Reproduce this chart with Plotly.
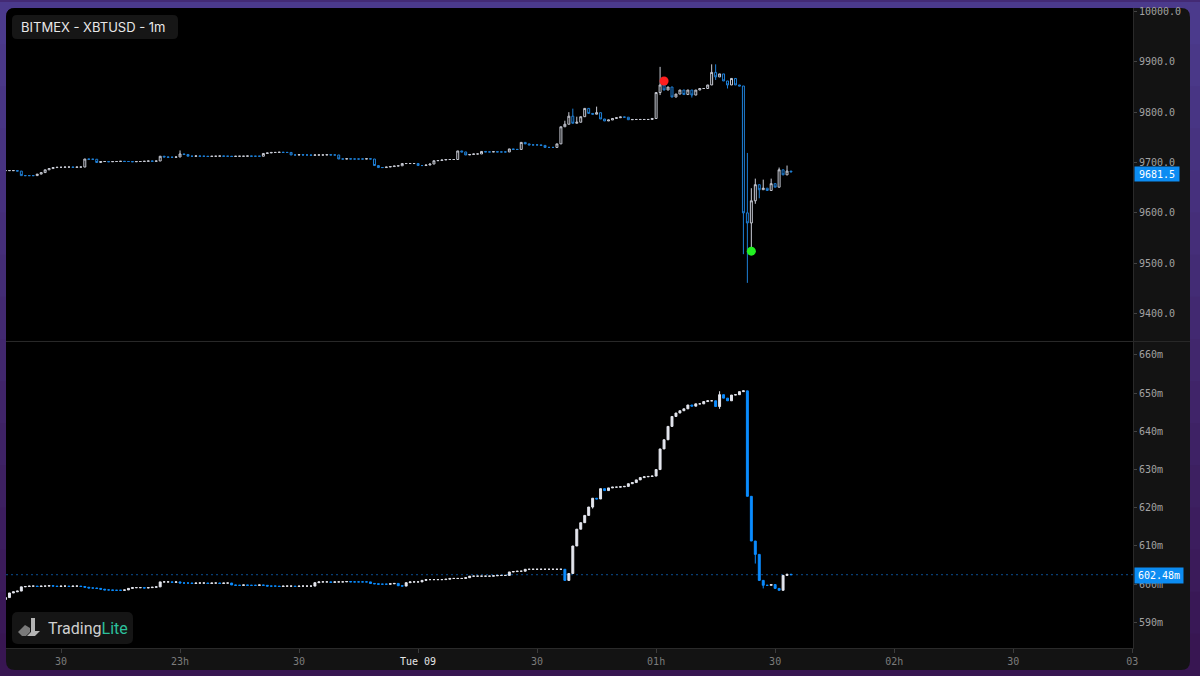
import pandas as pd
import plotly.graph_objects as go
from plotly.subplots import make_subplots

# ---------------- DATA ----------------
START = "2020-06-08 22:16"      # first 1-minute candle
M0 = -14                         # minute offset of first candle relative to 22:30

# XBTUSD 1m closes (22:16 .. 01:34)
price_close = [
    9684, 9684, 9684, 9683, 9674, 9674, 9674, 9674, 9677, 9680,
    9685.5, 9688, 9690, 9690.5, 9690.5, 9691, 9691, 9690.5, 9691, 9691,
    9707, 9706.5, 9706.5, 9700, 9702, 9702, 9701.5, 9702, 9702, 9702.5,
    9702, 9702, 9701.5, 9702, 9702, 9702.5, 9703, 9702.5, 9703, 9712.5,
    9711, 9710.5, 9710.5, 9711, 9717, 9716, 9712.5, 9712.5, 9713, 9712.5,
    9712.5, 9712, 9712.5, 9712.5, 9713, 9712.5, 9712.5, 9712, 9712.5, 9712.5,
    9712.5, 9713, 9712.5, 9712.5, 9712.5, 9718, 9719, 9720, 9720, 9720.5,
    9720, 9720, 9715, 9715, 9715.5, 9715, 9715, 9714.5, 9715, 9715,
    9715, 9715.5, 9715, 9715, 9707, 9707, 9707.5, 9707, 9707, 9707,
    9707, 9707.5, 9707, 9694, 9690, 9690, 9691, 9692, 9693, 9693.5,
    9698, 9698, 9698, 9698, 9694, 9694, 9695, 9697, 9703.5, 9704,
    9705, 9706, 9706, 9706, 9723, 9721, 9715, 9716, 9717, 9717,
    9722, 9721, 9721, 9721.5, 9721, 9721, 9721, 9727, 9726, 9726,
    9740, 9737, 9735, 9735, 9735, 9734, 9730, 9730, 9730, 9737,
    9771, 9776, 9792, 9778, 9780, 9791, 9807.5, 9797.5, 9796, 9799,
    9786.5, 9782.5, 9784.5, 9787.5, 9789, 9790.5, 9790, 9785, 9785.5, 9785.5,
    9785.5, 9785.5, 9785.5, 9787.5, 9839, 9854, 9844, 9850, 9830, 9836,
    9844, 9835, 9844, 9834, 9844, 9847, 9847, 9854, 9879, 9870,
    9876, 9862, 9854, 9867, 9854, 9852, 9600, 9580, 9624, 9656,
    9646, 9649, 9644.5, 9658, 9651, 9685.5, 9675.5, 9683, 9681.5,
]
price_first_open = 9684
price_high_wicks = {30: 9724, 127: 9783, 128: 9800, 129: 9807, 130: 9791, 135: 9811,
                    151: 9890, 152: 9865, 164: 9895, 165: 9895, 173: 9719, 174: 9649,
                    175: 9668, 177: 9666, 179: 9668, 181: 9690, 183: 9694}
price_low_wicks = {151: 9834, 159: 9829, 165: 9864, 168: 9847, 172: 9518, 173: 9461,
                   174: 9524, 175: 9618, 176: 9629}

# Open interest (millions) 1m closes
oi_close = [
    596.5, 597.7, 598.0, 598.2, 599.3, 599.4, 599.5, 599.5, 599.4, 599.5,
    599.5, 599.6, 599.5, 599.4, 599.5, 599.5, 599.4, 599.5, 599.5, 599.4,
    599.2, 599.0, 599.0, 598.9, 598.7, 598.5, 598.5, 598.4, 598.4, 598.4,
    598.5, 598.9, 599.1, 599.1, 599.1, 599.0, 599.1, 599.2, 599.3, 600.6,
    600.6, 600.6, 600.5, 600.6, 600.3, 600.3, 600.3, 600.2, 600.3, 600.3,
    600.3, 600.2, 600.3, 600.3, 600.2, 600.3, 600.3, 599.8, 599.7, 599.7,
    599.8, 599.7, 599.7, 599.7, 599.8, 599.7, 599.5, 599.5, 599.5, 599.4,
    599.5, 599.5, 599.5, 599.4, 599.5, 599.5, 599.5, 599.5, 600.4, 600.6,
    600.6, 600.6, 600.5, 600.6, 600.6, 600.6, 600.7, 600.6, 600.6, 600.6,
    600.6, 600.6, 600.2, 600.1, 600.0, 600.0, 600.0, 600.1, 600.2, 599.6,
    599.5, 600.4, 600.6, 600.6, 600.6, 601.0, 601.2, 601.2, 601.2, 601.2,
    601.2, 601.3, 601.5, 601.5, 601.5, 601.5, 601.7, 602.1, 602.1, 602.1,
    602.1, 602.1, 602.1, 602.2, 602.3, 602.3, 602.3, 603.2, 603.3, 603.4,
    603.4, 603.9, 603.9, 603.9, 603.9, 603.9, 603.9, 603.9, 603.9, 603.9,
    603.9, 601.0, 602.8, 610.0, 614.4, 616.1, 618.0, 620.2, 622.5, 622.3,
    625.0, 624.5, 625.2, 625.4, 625.4, 625.5, 625.6, 626.3, 626.6, 627.3,
    627.9, 628.1, 628.2, 628.3, 630.0, 635.4, 637.8, 641.3, 643.9, 644.8,
    645.4, 645.9, 646.9, 646.6, 647.2, 647.2, 647.8, 648.0, 648.0, 646.5,
    649.6, 648.7, 648.0, 649.5, 649.6, 650.4, 650.6, 623.0, 611.3, 607.8,
    601.0, 599.7, 599.7, 599.9, 598.9, 598.4, 602.3, 602.6, 602.48,
]
oi_first_open = 596.0
oi_high_wicks = {166: 650.5}
oi_low_wicks = {134: 619.8, 151: 631.9, 166: 645.9, 175: 605.4, 177: 598.9}

signal_sell_time, signal_sell_price = "2020-06-09 01:02", 9862
signal_buy_time, signal_buy_price = "2020-06-09 01:24", 9524

x_range = ["2020-06-08 22:16:08", "2020-06-09 03:00:12"]
x_tick_vals = ["2020-06-08 22:30", "2020-06-08 23:00", "2020-06-08 23:30",
               "2020-06-09 00:00", "2020-06-09 00:30", "2020-06-09 01:00",
               "2020-06-09 01:30", "2020-06-09 02:00", "2020-06-09 02:30",
               "2020-06-09 03:00"]
x_tick_text = ["30", "23h", "30", "<span style='color:#e6e6e6'>Tue 09</span>", "30",
               "01h", "30", "02h", "30", "03"]
last_price = 9681.5
last_oi = 602.48
price_range = [9345.6, 10006.9]
oi_range = [583.3, 663.4]


# ---------------- BUILD ----------------
def ohlc(close, first_open, hi, lo, m0):
    o, h, l = [], [], []
    prev = first_open
    for i, c in enumerate(close):
        m = i + m0
        o.append(prev)
        h.append(max(prev, c, hi.get(m, -1e12)))
        l.append(min(prev, c, lo.get(m, 1e12)))
        prev = c
    return o, h, l


times = pd.date_range(START, periods=len(price_close), freq="min")
p_open, p_high, p_low = ohlc(price_close, price_first_open, price_high_wicks, price_low_wicks, M0)
times_oi = pd.date_range(START, periods=len(oi_close), freq="min")
o_open, o_high, o_low = ohlc(oi_close, oi_first_open, oi_high_wicks, oi_low_wicks, M0)

W, H = 1200, 676
L, R, T, B = 6, 67, 6, 28
PW, PH = W - L - R, H - T - B


def px(x):
    return (x - L) / PW


def py(y):
    return (H - B - y) / PH


def rrect(x0, y0, x1, y1, r, corners=(1, 1, 1, 1)):
    tl, tr, br, bl = [r * c for c in corners]
    pts = []

    def P(x, y):
        return f"{px(x):.5f},{py(y):.5f}"
    pts.append(f"M{P(x0 + tl, y0)}")
    pts.append(f"L{P(x1 - tr, y0)}")
    if tr:
        pts.append(f"Q{P(x1, y0)} {P(x1, y0 + tr)}")
    pts.append(f"L{P(x1, y1 - br)}")
    if br:
        pts.append(f"Q{P(x1, y1)} {P(x1 - br, y1)}")
    pts.append(f"L{P(x0 + bl, y1)}")
    if bl:
        pts.append(f"Q{P(x0, y1)} {P(x0, y1 - bl)}")
    pts.append(f"L{P(x0, y0 + tl)}")
    if tl:
        pts.append(f"Q{P(x0, y0)} {P(x0 + tl, y0)}")
    pts.append("Z")
    return " ".join(pts)


def poly(points):
    return "M" + " L".join(f"{px(x):.5f},{py(y):.5f}" for x, y in points) + " Z"


fig = make_subplots(rows=2, cols=1, shared_xaxes=True, vertical_spacing=0.0)

fig.add_trace(go.Candlestick(
    x=times, open=p_open, high=p_high, low=p_low, close=price_close,
    increasing=dict(line=dict(color="#c9ccd6", width=1), fillcolor="#000000"),
    decreasing=dict(line=dict(color="#1f80d8", width=1), fillcolor="#000000"),
    whiskerwidth=0, hoverinfo="skip", showlegend=False), row=1, col=1)

fig.add_trace(go.Scatter(
    x=[signal_sell_time], y=[signal_sell_price], mode="markers",
    marker=dict(size=9, color="#ff1e1e"), hoverinfo="skip", showlegend=False), row=1, col=1)
fig.add_trace(go.Scatter(
    x=[signal_buy_time], y=[signal_buy_price], mode="markers",
    marker=dict(size=9, color="#22f022"), hoverinfo="skip", showlegend=False), row=1, col=1)

fig.add_trace(go.Candlestick(
    x=times_oi, open=o_open, high=o_high, low=o_low, close=oi_close,
    increasing=dict(line=dict(color="#e4e6ee", width=1), fillcolor="#e4e6ee"),
    decreasing=dict(line=dict(color="#0b8cff", width=1), fillcolor="#0b8cff"),
    whiskerwidth=0, hoverinfo="skip", showlegend=False), row=2, col=1)

shapes = []
# purple frame gradient
top_c, bot_c = (75, 58, 140), (56, 22, 82)
nb = 16
for i in range(nb):
    f = i / (nb - 1)
    c = tuple(round(top_c[k] + (bot_c[k] - top_c[k]) * f) for k in range(3))
    y0 = H * i / nb
    y1 = H * (i + 1) / nb + 1
    shapes.append(dict(type="rect", xref="paper", yref="paper", layer="below",
                       x0=px(-5), x1=px(W + 5), y0=py(y1), y1=py(y0),
                       line=dict(width=0), fillcolor="rgb(%d,%d,%d)" % c))
# panel
shapes.append(dict(type="path", xref="paper", yref="paper", layer="below",
                   path=rrect(6, 6, 1190, 670, 9), line=dict(width=0), fillcolor="#131313"))
# plot area
shapes.append(dict(type="path", xref="paper", yref="paper", layer="below",
                   path=rrect(6, 6, 1133, 648, 9, (1, 0, 0, 0)), line=dict(width=0),
                   fillcolor="#000000"))
# title box
shapes.append(dict(type="path", xref="paper", yref="paper", layer="below",
                   path=rrect(12, 13, 178, 37, 5), line=dict(width=0), fillcolor="#161616"))
# logo box
shapes.append(dict(type="path", xref="paper", yref="paper", layer="below",
                   path=rrect(12, 612, 133, 644, 6), line=dict(width=0), fillcolor="#151515"))
# logo glyph (stylised arrow "L")
shapes.append(dict(type="path", xref="paper", yref="paper", layer="below",
                   path=poly([(18, 632), (25, 625), (30, 628), (30, 632), (26, 636), (22, 636)]),
                   line=dict(width=0), fillcolor="#7a7a7a"))
shapes.append(dict(type="path", xref="paper", yref="paper", layer="below",
                   path=poly([(31, 618), (35, 618), (35, 631), (40, 631), (35, 636),
                              (27, 636), (31, 632)]),
                   line=dict(width=0), fillcolor="#b4b4b4"))
# pane separator
shapes.append(dict(type="line", xref="paper", yref="paper", layer="below",
                   x0=px(6), x1=px(1190), y0=py(340.5), y1=py(340.5),
                   line=dict(color="#2a2a2a", width=1)))
# last OI dotted line
shapes.append(dict(type="line", xref="paper", yref="y2", layer="below",
                   x0=0, x1=1, y0=last_oi, y1=last_oi,
                   line=dict(color="#0c4f92", width=1, dash="2px,3px")))

annotations = [
    dict(xref="paper", yref="paper", x=px(19), y=py(25), xanchor="left", yanchor="middle",
         text="BITMEX - XBTUSD - 1m", showarrow=False,
         font=dict(family="Inter, Roboto, sans-serif", size=13, color="#e8e8e8")),
    dict(xref="paper", yref="paper", x=px(46), y=py(628), xanchor="left", yanchor="middle",
         text="Trading<span style='color:#2cc09c'>Lite</span>", showarrow=False,
         font=dict(family="Roboto, sans-serif", size=16, color="#cfcfcf")),
    dict(xref="paper", yref="y", x=1, y=last_price, xanchor="left", yanchor="middle",
         xshift=1, yshift=-2, text="9681.5", showarrow=False, bgcolor="#0c8cf2",
         width=44, height=14, borderpad=0, align="center",
         font=dict(family="DejaVu Sans Mono, monospace", size=10, color="#ffffff")),
    dict(xref="paper", yref="y2", x=1, y=last_oi, xanchor="left", yanchor="middle",
         xshift=1, yshift=-1, text="602.48m", showarrow=False, bgcolor="#0c8cf2",
         width=48, height=15, borderpad=0, align="center",
         font=dict(family="DejaVu Sans Mono, monospace", size=10, color="#ffffff")),
]

tickfont_y = dict(family="DejaVu Sans Mono, monospace", size=10, color="#a2a2a2")
tickfont_x = dict(family="DejaVu Sans Mono, monospace", size=10, color="#7c7c7c")

fig.update_layout(
    width=W, height=H, autosize=False,
    margin=dict(l=L, r=R, t=T, b=B, pad=0),
    paper_bgcolor="#432a74", plot_bgcolor="rgba(0,0,0,0)",
    showlegend=False, hovermode=False,
    shapes=shapes, annotations=annotations,
)
fig.update_xaxes(type="date", range=x_range, rangeslider_visible=False, showgrid=False,
                 zeroline=False, tickvals=x_tick_vals, ticktext=x_tick_text)
fig.update_xaxes(showticklabels=False, ticks="", showline=False, row=1, col=1)
fig.update_xaxes(showticklabels=True, ticks="outside", ticklen=4, tickcolor="#3c3c3c",
                 showline=True, linecolor="#2a2a2a", linewidth=1, tickfont=tickfont_x,
                 row=2, col=1)

fig.update_yaxes(side="right", showgrid=False, zeroline=False, ticks="outside", ticklen=3,
                 tickcolor="#444444", showline=True, linecolor="#2a2a2a", linewidth=1,
                 tickfont=tickfont_y, fixedrange=True)
fig.update_yaxes(range=price_range, domain=[(648 - 340) / PH, 1.0], tickformat=".1f",
                 dtick=100, tick0=0, row=1, col=1)
fig.update_yaxes(range=oi_range, domain=[0.0, (648 - 341) / PH], tickformat="d",
                 ticksuffix="m", dtick=10, tick0=0, row=2, col=1)

fig.write_html("out.html", config={"displayModeBar": False, "staticPlot": True},
               post_script="document.body.style.margin='0';"
                           "document.body.style.overflow='hidden';"
                           "document.body.style.background='#432a74';")
